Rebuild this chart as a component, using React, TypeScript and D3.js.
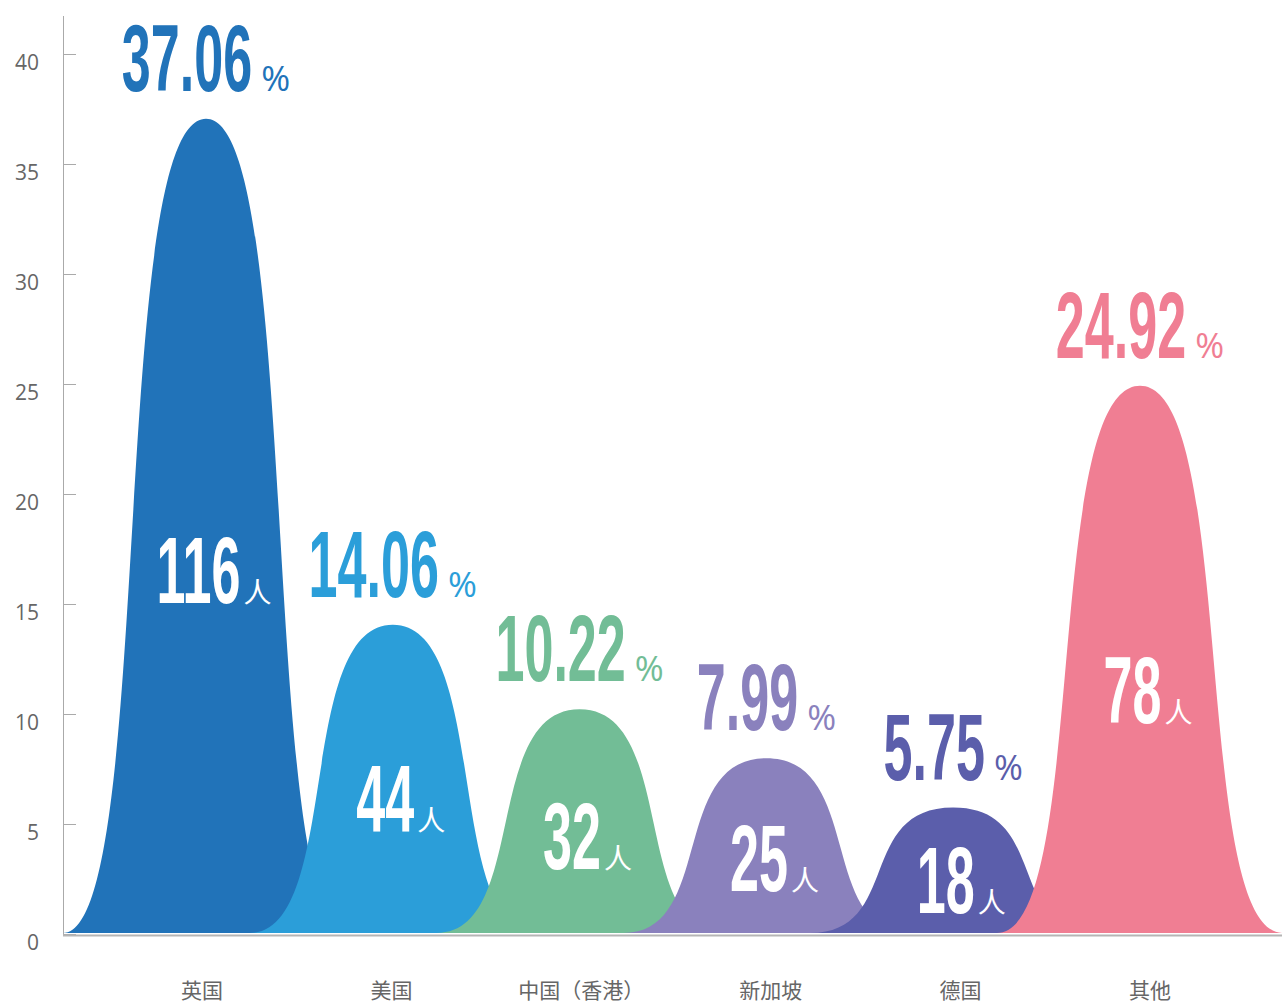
import React, { useEffect, useRef } from "react";
import * as d3 from "d3";

const categories = ["英国", "美国", "中国（香港）", "新加坡", "德国", "其他"];
const percentages = [37.06, 14.06, 10.22, 7.99, 5.75, 24.92];
const counts = [116, 44, 32, 25, 18, 78];
const colors = ["#2173b9", "#2b9ed9", "#72bd96", "#8a81bd", "#5b5eab", "#f07e93"];
const yTicks = [0, 5, 10, 15, 20, 25, 30, 35, 40];

const WIDTH = 1282;
const HEIGHT = 1004;
const NUM_FONT = "'Liberation Sans Narrow', 'Liberation Sans', Arial, sans-serif";
const CJK_FONT = "'Noto Sans CJK SC', 'Noto Sans', sans-serif";

function bellPath(cx: number, base: number, top: number, w: number) {
  const l = cx - w / 2;
  const r = cx + w / 2;
  const a = 0.32 * w;
  const b = 0.16 * w;
  return `M${l},${base} C${l + a},${base} ${l + b},${top} ${cx},${top} C${r - b},${top} ${r - a},${base} ${r},${base} Z`;
}

export default function App() {
  const ref = useRef<SVGSVGElement | null>(null);

  useEffect(() => {
    const svg = d3.select(ref.current!);
    svg.selectAll("*").remove();

    const y = d3.scaleLinear().domain([0, 40]).range([934, 54]);
    const x = d3.scalePoint<string>().domain(categories).range([206, 1140]);
    const xLabel = d3.scalePoint<string>().domain(categories).range([202, 1150]);
    const shapeW = 286;

    // shapes
    const shapes = svg.append("g");
    categories.forEach((c, i) => {
      shapes
        .append("path")
        .attr("d", bellPath(x(c)!, y(0) - 1, y(percentages[i]), shapeW))
        .attr("fill", colors[i]);
    });

    // y axis
    const axis = svg.append("g");
    axis
      .append("line")
      .attr("x1", 63.5)
      .attr("x2", 63.5)
      .attr("y1", 16)
      .attr("y2", y(0) + 1)
      .attr("stroke", "#aaa")
      .attr("stroke-width", 1);
    yTicks.forEach((t) => {
      axis
        .append("line")
        .attr("x1", 63.5)
        .attr("x2", 76)
        .attr("y1", Math.round(y(t)) + 0.5)
        .attr("y2", Math.round(y(t)) + 0.5)
        .attr("stroke", "#aaa");
      axis
        .append("text")
        .attr("x", 39)
        .attr("y", y(t) + 8)
        .attr("text-anchor", "end")
        .attr("dominant-baseline", "central")
        .attr("font-family", "'Open Sans', sans-serif")
        .attr("font-size", 21)
        .attr("fill", "#666")
        .text(String(t));
    });
    // x axis
    axis
      .append("line")
      .attr("x1", 63)
      .attr("x2", WIDTH)
      .attr("y1", y(0) + 1.5)
      .attr("y2", y(0) + 1.5)
      .attr("stroke", "#b5b5b5")
      .attr("stroke-width", 2);
    categories.forEach((c) => {
      axis
        .append("text")
        .attr("x", xLabel(c)!)
        .attr("y", 989)
        .attr("text-anchor", "middle")
        .attr("dominant-baseline", "central")
        .attr("font-family", CJK_FONT)
        .attr("font-size", 21)
        .attr("fill", "#666")
        .text(c);
    });

    // measure digit width for condensed look
    const probe = svg
      .append("text")
      .attr("font-family", NUM_FONT)
      .attr("font-weight", "bold")
      .attr("font-size", 94)
      .text("0");
    const zeroW = (probe.node() as SVGTextElement).getComputedTextLength() || 50;
    probe.remove();
    const sx = 29 / zeroW;

    const labels = svg.append("g");

    function numberLabel(
      txt: string,
      unit: string,
      unitFont: string,
      unitSize: number,
      gap: number,
      cx: number,
      baseline: number,
      fill: string
    ) {
      const g = labels.append("g");
      const num = g
        .append("text")
        .attr("font-family", NUM_FONT)
        .attr("font-weight", "bold")
        .attr("font-size", 94)
        .attr("fill", fill)
        .text(txt);
      const numW = (num.node() as SVGTextElement).getComputedTextLength() * sx;
      const u = g
        .append("text")
        .attr("font-family", unitFont)
        .attr("font-size", unitSize)
        .attr("fill", fill)
        .text(unit);
      const uW = (u.node() as SVGTextElement).getComputedTextLength();
      const total = numW + gap + uW;
      const x0 = cx - total / 2;
      num.attr("transform", `translate(${x0},${baseline}) scale(${sx},1)`);
      u.attr("x", x0 + numW + gap).attr("y", baseline);
    }

    categories.forEach((c, i) => {
      const cx = x(c)!;
      numberLabel(
        percentages[i].toFixed(2),
        "%",
        "'Open Sans', sans-serif",
        35,
        9,
        cx,
        y(percentages[i]) - 28,
        colors[i]
      );
      numberLabel(
        String(counts[i]),
        "人",
        CJK_FONT,
        28,
        3,
        cx + 8,
        y(percentages[i] * 0.45) + 36,
        "#ffffff"
      );
    });
  }, []);

  return (
    <svg
      ref={ref}
      width={WIDTH}
      height={HEIGHT}
      style={{ position: "absolute", left: 0, top: 0, display: "block", background: "#fff" }}
    />
  );
}
